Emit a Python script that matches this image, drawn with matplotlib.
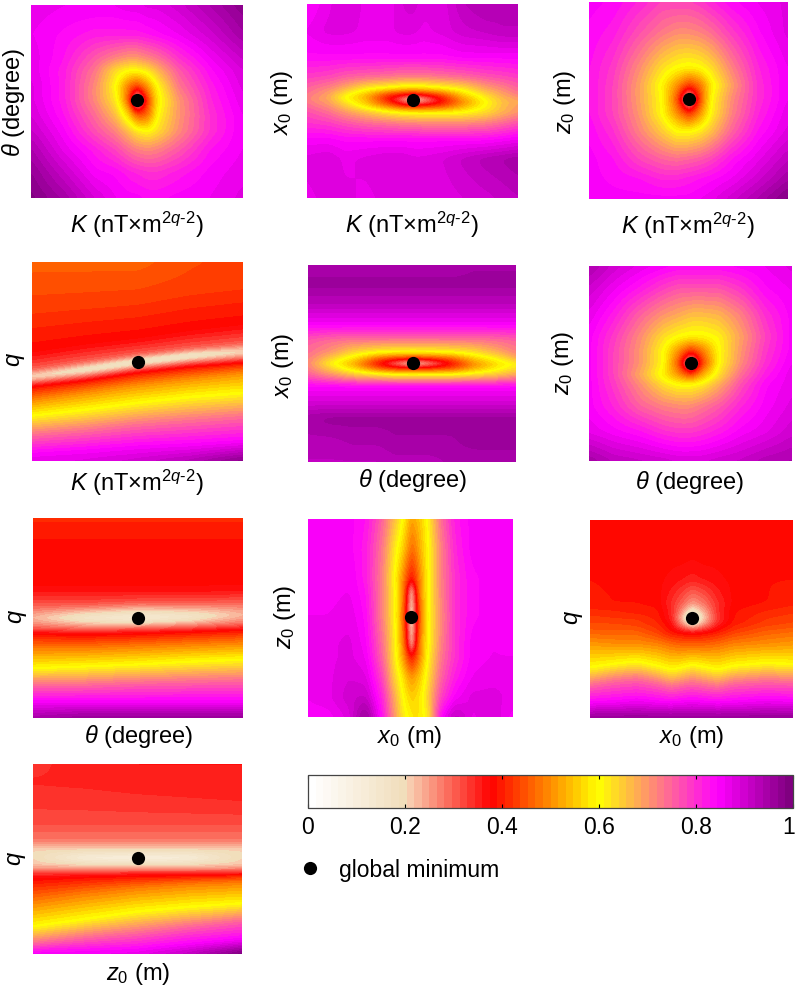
import numpy as np
import matplotlib
matplotlib.use("Agg")
import matplotlib.pyplot as plt
import matplotlib.transforms as mtrans
from matplotlib.colors import LinearSegmentedColormap, Normalize
from matplotlib.cm import ScalarMappable
from matplotlib.lines import Line2D

plt.rcParams['font.family'] = ['Liberation Sans', 'DejaVu Sans']
plt.rcParams['mathtext.fontset'] = 'custom'
plt.rcParams['mathtext.rm'] = 'Liberation Sans'
plt.rcParams['mathtext.it'] = 'Liberation Sans:italic'
plt.rcParams['mathtext.bf'] = 'Liberation Sans:bold'

W, H = 797, 994
FONT = 17

# normalized misfit, rows go from top to bottom of the panel
# node positions are fractions of panel width / height

# K - theta
p1_x = [0, .15, .3, .397, .46, .5, .55, .6, .7, .85, 1]
p1_y = [0, .15, .27, .336, .42, .493, .57, .657, .75, .87, 1]
p1_z = [[.87, .86, .86, .86, .87, .87, .88, .88, .90, .94, .98],
        [.86, .84, .82, .82, .82, .82, .83, .84, .86, .90, .95],
        [.87, .83, .76, .72, .70, .70, .72, .74, .80, .86, .91],
        [.87, .82, .73, .63, .60, .60, .62, .67, .76, .84, .89],
        [.88, .82, .71, .60, .47, .42, .50, .60, .73, .82, .88],
        [.88, .82, .71, .62, .45, .12, .42, .58, .70, .81, .87],
        [.89, .83, .74, .66, .55, .44, .46, .60, .70, .80, .86],
        [.91, .85, .77, .72, .66, .62, .60, .63, .71, .80, .86],
        [.94, .87, .82, .78, .74, .72, .71, .72, .76, .83, .86],
        [.97, .91, .85, .84, .82, .81, .80, .80, .82, .85, .87],
        [.99, .95, .89, .86, .85, .85, .84, .84, .85, .86, .88]]

# K - x0
p2_x = [0, .1, .18, .28, .38, .45, .5, .55, .64, .74, .85, .93, 1]
p2_y = [0, .14, .27, .37, .43, .47, .493, .52, .56, .62, .7, .8, 1]
p2_z = [[.84, .87, .89, .87, .86, .89, .90, .88, .88, .92, .94, .93, .93],
        [.86, .88, .88, .87, .87, .88, .88, .87, .88, .90, .91, .92, .92],
        [.84, .84, .84, .84, .84, .84, .84, .84, .84, .85, .85, .85, .85],
        [.79, .78, .76, .75, .74, .73, .73, .73, .74, .75, .77, .78, .79],
        [.75, .72, .68, .62, .60, .58, .57, .58, .60, .63, .69, .72, .75],
        [.73, .68, .60, .52, .40, .36, .34, .36, .42, .54, .63, .68, .72],
        [.72, .68, .60, .53, .39, .25, .10, .20, .37, .50, .60, .66, .68],
        [.74, .70, .64, .55, .45, .38, .36, .36, .40, .50, .60, .66, .69],
        [.77, .74, .70, .66, .62, .60, .59, .59, .59, .60, .63, .67, .70],
        [.80, .79, .77, .75, .74, .73, .73, .72, .72, .72, .73, .75, .77],
        [.85, .85, .84, .84, .84, .84, .84, .84, .84, .84, .84, .85, .86],
        [.88, .89, .87, .88, .89, .89, .88, .88, .89, .91, .93, .94, .95],
        [.87, .88, .88, .87, .88, .89, .88, .88, .88, .89, .90, .91, .92]]

# K - z0
p3_x = [0, .12, .25, .365, .44, .503, .56, .617, .72, .85, 1]
p3_y = [0, .15, .33, .42, .493, .57, .66, .8, .9, 1]
p3_z = [[.85, .84, .81, .78, .78, .78, .79, .81, .84, .86, .88],
        [.84, .82, .77, .73, .71, .71, .72, .74, .79, .84, .88],
        [.83, .79, .71, .63, .60, .59, .60, .63, .72, .81, .86],
        [.83, .78, .69, .59, .50, .42, .47, .58, .69, .80, .86],
        [.83, .78, .69, .60, .45, .15, .43, .60, .71, .80, .86],
        [.83, .78, .70, .60, .50, .42, .50, .61, .72, .81, .87],
        [.84, .80, .72, .65, .60, .60, .62, .66, .75, .83, .88],
        [.85, .83, .78, .75, .74, .75, .76, .78, .83, .87, .92],
        [.85, .84, .83, .81, .81, .82, .83, .84, .86, .90, .95],
        [.85, .85, .85, .85, .85, .85, .86, .87, .90, .94, .99]]

# K - q, rows follow the tilted valley so y is given per column
p4_x = [0, .25, .5, .75, 1]
p4_y = [[0, 0, 0, 0, 0],
        [.22, .20, .18, .13, .10],
        [.45, .41, .38, .34, .31],
        [.54, .50, .465, .435, .41],
        [.575, .54, .50, .47, .45],
        [.61, .58, .54, .51, .49],
        [.625, .595, .555, .525, .505],
        [.70, .66, .62, .59, .56],
        [.775, .745, .71, .68, .66],
        [.87, .85, .82, .80, .78],
        [.965, .95, .93, .92, .905],
        [1, 1, 1, 1, 1]]
p4_z = [[.46, .46, .46, .44, .43],
        [.43, .43, .43, .43, .43],
        [.38, .38, .38, .38, .38],
        [.30, .30, .30, .30, .30],
        [.17, .14, .12, .12, .17],
        [.30, .30, .30, .30, .30],
        [.38, .38, .38, .38, .38],
        [.50, .50, .50, .50, .50],
        [.60, .60, .60, .60, .60],
        [.74, .74, .74, .74, .74],
        [.85, .85, .85, .85, .85],
        [.87, .88, .90, .93, .98]]

# theta - x0
p5_x = [0, .11, .22, .34, .42, .505, .59, .69, .8, .92, 1]
p5_y = [0, .1, .2, .3, .38, .44, .48, .498, .52, .557, .62, .68, .78, .9, 1]
p5_z = [[.94, .94, .94, .94, .94, .94, .94, .94, .95, .95, .95],
        [.96, .96, .96, .96, .96, .96, .96, .96, .96, .96, .96],
        [.92, .92, .92, .92, .92, .92, .92, .92, .92, .92, .92],
        [.85, .85, .85, .85, .85, .85, .85, .85, .85, .85, .85],
        [.76, .74, .73, .73, .73, .73, .73, .73, .73, .74, .75],
        [.74, .70, .64, .61, .60, .60, .60, .61, .63, .68, .72],
        [.72, .63, .55, .42, .38, .36, .38, .42, .53, .60, .66],
        [.71, .60, .52, .38, .25, .10, .22, .38, .50, .57, .60],
        [.72, .63, .54, .41, .37, .36, .37, .40, .50, .58, .62],
        [.75, .70, .65, .62, .60, .60, .60, .60, .62, .65, .68],
        [.85, .85, .85, .85, .85, .85, .85, .85, .85, .85, .85],
        [.88, .88, .88, .88, .88, .88, .88, .88, .88, .88, .88],
        [.95, .96, .96, .96, .96, .96, .96, .96, .96, .96, .96],
        [.93, .93, .94, .94, .95, .95, .95, .95, .96, .96, .96],
        [.92, .92, .92, .92, .93, .93, .93, .94, .94, .94, .94]]

# theta - z0
p6_x = [0, .12, .25, .365, .44, .502, .56, .644, .75, .87, 1]
p6_y = [0, .12, .25, .36, .43, .498, .56, .61, .72, .85, 1]
p6_z = [[.94, .90, .87, .85, .84, .84, .84, .84, .85, .86, .88],
        [.90, .86, .82, .78, .76, .76, .76, .76, .79, .84, .86],
        [.87, .82, .75, .70, .68, .66, .66, .67, .72, .80, .85],
        [.85, .79, .71, .63, .60, .59, .59, .61, .69, .78, .85],
        [.85, .78, .70, .60, .50, .42, .48, .60, .70, .79, .85],
        [.85, .78, .70, .60, .44, .15, .42, .60, .71, .80, .86],
        [.85, .78, .68, .58, .50, .43, .52, .63, .74, .82, .87],
        [.85, .79, .71, .63, .60, .60, .62, .68, .77, .84, .87],
        [.85, .81, .75, .72, .71, .71, .73, .76, .81, .85, .88],
        [.87, .85, .83, .80, .79, .79, .80, .82, .85, .87, .90],
        [.95, .92, .91, .90, .89, .89, .89, .90, .91, .93, .94]]

# theta - q
p7_x = [0, .25, .5, .75, 1]
p7_y = [[0, 0, 0, 0, 0],
        [.10, .10, .10, .10, .10],
        [.35, .35, .35, .35, .35],
        [.43, .43, .42, .42, .41],
        [.50, .50, .50, .495, .485],
        [.555, .56, .555, .55, .54],
        [.575, .58, .575, .565, .555],
        [.65, .65, .64, .63, .62],
        [.755, .745, .735, .72, .71],
        [.84, .84, .83, .825, .82],
        [.92, .92, .92, .92, .92],
        [1, 1, 1, 1, 1]]
p7_z = [[.41, .41, .41, .41, .41],
        [.39, .39, .39, .39, .39],
        [.375, .375, .375, .375, .375],
        [.31, .31, .31, .31, .31],
        [.22, .14, .10, .14, .22],
        [.30, .30, .30, .30, .30],
        [.375, .375, .375, .375, .375],
        [.48, .48, .48, .48, .48],
        [.60, .60, .60, .60, .60],
        [.75, .75, .75, .75, .75],
        [.85, .85, .85, .85, .85],
        [.95, .97, .97, .97, .97]]

# x0 - z0
p8_x = [0, .1, .2, .28, .36, .42, .46, .485, .504, .525, .55, .59, .65, .72, .8, .9, 1]
p8_y = [0, .15, .3, .36, .494, .63, .7, .8, .9, 1]
p8_z = [[.85, .85, .85, .83, .75, .66, .60, .55, .50, .53, .55, .61, .74, .82, .85, .85, .85],
        [.85, .85, .85, .82, .73, .62, .56, .50, .46, .48, .53, .60, .72, .81, .85, .85, .85],
        [.85, .85, .86, .82, .72, .60, .50, .42, .38, .42, .50, .60, .72, .80, .84, .85, .85],
        [.85, .85, .86, .83, .72, .61, .50, .38, .15, .38, .50, .60, .72, .80, .84, .85, .85],
        [.86, .86, .87, .84, .72, .61, .48, .34, .08, .33, .47, .60, .71, .80, .84, .85, .85],
        [.86, .87, .88, .85, .74, .62, .50, .38, .15, .37, .50, .60, .72, .80, .85, .86, .85],
        [.86, .87, .88, .86, .75, .62, .52, .43, .38, .42, .50, .61, .73, .80, .85, .86, .86],
        [.86, .87, .89, .88, .78, .64, .58, .52, .50, .52, .55, .63, .75, .82, .86, .87, .87],
        [.86, .87, .90, .91, .81, .68, .60, .57, .55, .56, .58, .65, .78, .85, .88, .88, .87],
        [.85, .85, .88, .97, .83, .70, .62, .60, .58, .57, .58, .62, .84, .92, .87, .89, .85]]

# x0 - q, the lower rows follow the wavy yellow band
p9_x = [0, .12, .23, .33, .40, .45, .503, .56, .63, .71, .87, 1]
p9_y = [[0] * 12,
        [.2] * 12,
        [.3] * 12,
        [.42] * 12,
        [.47] * 12,
        [.496] * 12,
        [.53] * 12,
        [.57] * 12,
        [.63] * 12,
        [.75, .73, .717, .74, .76, .75, .733, .745, .76, .74, .725, .733],
        [.84, .82, .81, .83, .85, .84, .83, .84, .85, .83, .82, .825],
        [.925, .92, .91, .92, .925, .92, .915, .92, .925, .92, .91, .915],
        [1] * 12]
p9_z = [[.38, .38, .38, .38, .38, .38, .38, .38, .38, .385, .39, .39],
        [.38, .38, .38, .38, .38, .38, .375, .38, .38, .385, .39, .39],
        [.39, .385, .38, .38, .37, .36, .35, .36, .37, .38, .39, .39],
        [.40, .39, .39, .385, .34, .30, .25, .28, .34, .38, .39, .40],
        [.41, .41, .40, .395, .35, .25, .12, .22, .34, .39, .41, .42],
        [.43, .42, .42, .40, .35, .22, .05, .20, .33, .39, .42, .43],
        [.44, .44, .43, .41, .37, .27, .18, .25, .35, .40, .43, .44],
        [.46, .46, .46, .43, .39, .38, .37, .38, .40, .43, .46, .47],
        [.51, .50, .50, .49, .47, .46, .46, .46, .47, .49, .50, .51],
        [.60] * 12,
        [.75] * 12,
        [.85] * 12,
        [.97] * 12]

# z0 - q
p10_x = [0, .25, .5, .75, 1]
p10_y = [[0, 0, 0, 0, 0],
         [.10, .12, .15, .17, .19],
         [.30, .30, .30, .30, .30],
         [.40, .40, .40, .40, .40],
         [.45, .45, .45, .45, .45],
         [.495, .495, .495, .495, .495],
         [.54, .54, .54, .54, .54],
         [.565, .565, .565, .565, .565],
         [.60, .59, .585, .585, .58],
         [.72, .68, .65, .63, .62],
         [.86, .82, .78, .755, .737],
         [.95, .92, .895, .86, .83],
         [.995, .99, .98, .95, .925],
         [1, 1, 1, 1, 1]]
p10_z = [[.34, .35, .36, .36, .36],
         [.345, .345, .345, .345, .345],
         [.32, .32, .32, .32, .32],
         [.28, .28, .28, .28, .28],
         [.20, .20, .20, .20, .20],
         [.20, .10, .08, .10, .20],
         [.22, .22, .22, .22, .22],
         [.30, .30, .30, .30, .30],
         [.375, .375, .375, .375, .375],
         [.48, .48, .48, .48, .48],
         [.60, .60, .60, .60, .60],
         [.75, .75, .75, .75, .75],
         [.85, .85, .85, .85, .85],
         [.86, .86, .87, .92, 1.0]]

# global minimum of each panel, fractions of the panel
min_x = [.50, .504, .503, .50, .505, .502, .50, .504, .503, .50]
min_y = [.493, .493, .493, .50, .498, .498, .50, .494, .496, .495]

cbar_ticks = [0, .2, .4, .6, .8, 1]
cbar_labels = ['0', '0.2', '0.4', '0.6', '0.8', '1']
legend_label = 'global minimum'

# colormap stops
stop_pos = [0, .2, .205, .375, .6, .85, 1]
stop_col = ['#ffffff', '#f0dcb8', '#f8ceb0', '#ff0000', '#ffff00', '#ff00ff', '#800080']

K_LABEL = r'$\mathit{K}$ (nT×m$^{2\mathit{q}\text{-}2}$)'
T_LABEL = r'$\mathit{\theta}$ (degree)'
X_LABEL = r'$\mathit{x}_0$ (m)'
Z_LABEL = r'$\mathit{z}_0$ (m)'
Q_LABEL = r'$\mathit{q}$'

# panel boxes in pixels: left, right, top, bottom
boxes = [(31, 243, 5, 198), (307, 518, 4, 198), (589, 788, 2, 199),
         (32, 243, 262, 461), (308, 516, 265, 462), (589, 792, 266, 461),
         (33, 243, 518, 718), (308, 513, 519, 717), (590, 793, 520, 718),
         (33, 242, 764, 954)]

# label text and centre in pixels
x_labels = [(K_LABEL, 137, 225), (K_LABEL, 412, 225), (K_LABEL, 688, 226),
            (K_LABEL, 137, 483), (T_LABEL, 413, 480), (T_LABEL, 690, 482),
            (T_LABEL, 139, 737), (X_LABEL, 410, 737), (X_LABEL, 692, 737),
            (Z_LABEL, 138, 974)]
y_labels = [(T_LABEL, 14, 102), (X_LABEL, 282, 102), (Z_LABEL, 565, 102),
            (Q_LABEL, 16, 360), (X_LABEL, 283, 365), (Z_LABEL, 563, 363),
            (Q_LABEL, 18, 617), (Z_LABEL, 285, 617), (Q_LABEL, 574, 618),
            (Q_LABEL, 17, 859)]

fields = [(p1_x, p1_y, p1_z), (p2_x, p2_y, p2_z), (p3_x, p3_y, p3_z),
          (p4_x, p4_y, p4_z), (p5_x, p5_y, p5_z), (p6_x, p6_y, p6_z),
          (p7_x, p7_y, p7_z), (p8_x, p8_y, p8_z), (p9_x, p9_y, p9_z),
          (p10_x, p10_y, p10_z)]

GRID = 220   # resampling grid of a panel
BLUR = 3.0   # softening of the resampled field, in grid cells


def make_axes(fig, left, right, top, bottom):
    return fig.add_axes([left / W, 1 - bottom / H, (right - left) / W, (bottom - top) / H])


def blur_field(field, sigma):
    radius = int(3 * sigma)
    kernel = np.exp(-0.5 * (np.arange(-radius, radius + 1) / sigma) ** 2)
    kernel = kernel / kernel.sum()

    # edges padded so the panel border keeps its value
    padded = np.pad(field, radius, mode='edge')
    padded = np.apply_along_axis(lambda m: np.convolve(m, kernel, mode='same'), 0, padded)
    padded = np.apply_along_axis(lambda m: np.convolve(m, kernel, mode='same'), 1, padded)
    return padded[radius:-radius, radius:-radius]


def resample_field(xs, ys, zs):
    zs = np.array(zs, dtype=float)
    ny, nx = zs.shape
    ys = np.array(ys, dtype=float)
    if ys.ndim == 1:
        ys = np.tile(ys[:, None], (1, nx))

    fine_x = np.linspace(0, 1, GRID)
    fine_y = np.linspace(0, 1, GRID)
    field = np.zeros((GRID, GRID))

    # rows may be bent, so move their nodes along x first and then fill the column
    for j in range(GRID):
        node_y = [np.interp(fine_x[j], xs, ys[k]) for k in range(ny)]
        node_z = [np.interp(fine_x[j], xs, zs[k]) for k in range(ny)]
        field[:, j] = np.interp(fine_y, node_y, node_z)

    return fine_x, fine_y, blur_field(field, BLUR)


def draw_field(ax, xs, ys, zs, cmap, levels):
    fine_x, fine_y, field = resample_field(xs, ys, zs)
    ax.contourf(fine_x, fine_y, field, levels=levels, cmap=cmap, extend='both')
    ax.set_xlim(0, 1)
    ax.set_ylim(1, 0)
    ax.axis('off')


stops = [(p, c) for p, c in zip(stop_pos, stop_col)]
cmap = LinearSegmentedColormap.from_list('misfit', stops, N=64)
levels = np.linspace(0, 1, 65)

fig = plt.figure(figsize=(W / 100, H / 100), dpi=100)

for i in range(len(fields)):
    ax = make_axes(fig, *boxes[i])
    draw_field(ax, fields[i][0], fields[i][1], fields[i][2], cmap, levels)
    ax.plot(min_x[i], min_y[i], 'o', color='k', ms=9.5, mew=0)

    text, px, py = x_labels[i]
    fig.text(px / W, 1 - py / H, text, fontsize=FONT, ha='center', va='center')
    text, px, py = y_labels[i]
    fig.text(px / W, 1 - py / H, text, fontsize=FONT, ha='center', va='center', rotation=90)

# colorbar
cax = make_axes(fig, 308, 793, 775, 808)
cb = fig.colorbar(ScalarMappable(Normalize(0, 1), cmap), cax=cax, orientation='horizontal',
                  ticks=cbar_ticks)
cb.ax.set_xticklabels(cbar_labels)
cb.ax.tick_params(axis='x', direction='in', length=3, width=0.8, top=True, bottom=True,
                  labelsize=16.5, pad=6)
cb.outline.set_edgecolor('#444444')
cb.outline.set_linewidth(0.9)

# last tick label would be cut by the image edge
last = cb.ax.get_xticklabels()[-1]
last.set_transform(last.get_transform() + mtrans.Affine2D().translate(-4, 0))

handle = Line2D([], [], marker='o', ls='none', color='k', ms=9.5, mew=0)
fig.legend([handle], [legend_label], loc='center left', bbox_to_anchor=(282 / W, 1 - 870 / H),
           frameon=False, fontsize=16.5, handletextpad=0.6, handlelength=1.4, borderpad=0)

fig.savefig('out.png', dpi=100)
